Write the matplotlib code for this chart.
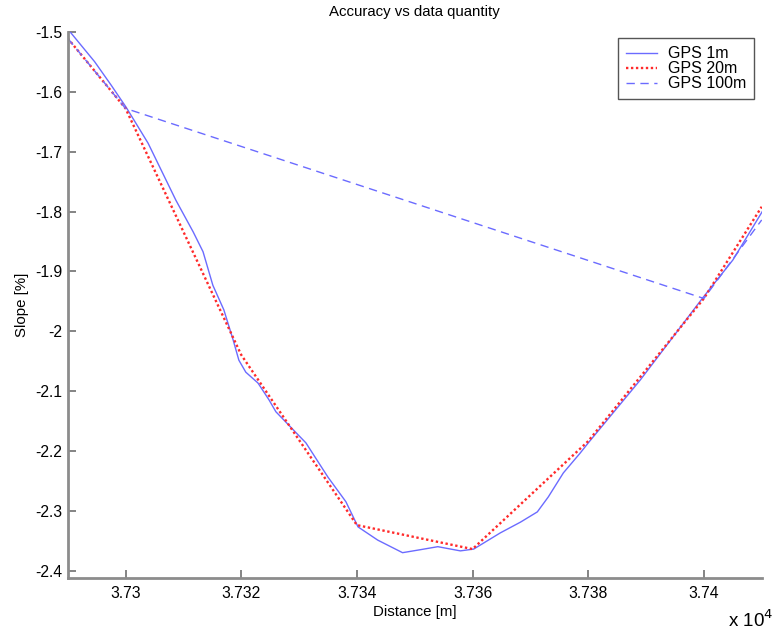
import matplotlib
matplotlib.use("Agg")
import matplotlib.pyplot as plt
from matplotlib.ticker import FuncFormatter

plt.rcParams['font.family'] = ['Liberation Sans', 'DejaVu Sans']
plt.rcParams['axes.unicode_minus'] = False

# GPS 1m (dense trace)
gps1_x = [37290.3, 37294.65, 37297.5, 37300.1, 37303.9, 37308.7, 37311.7, 37313.4,
          37315.1, 37317.0, 37318.6, 37319.6, 37320.8, 37322.9, 37324.8, 37326.0,
          37331.2, 37335.0, 37338.1, 37340.2, 37343.6, 37347.9, 37351.0, 37354.0,
          37357.9, 37360.2, 37364.8, 37368.3, 37371.2, 37373.1, 37375.7, 37378.6,
          37380.0, 37389.0, 37399.8, 37405.0, 37410.1]
gps1_y = [-1.499, -1.550, -1.589, -1.626, -1.686, -1.781, -1.834, -1.867,
          -1.923, -1.964, -2.014, -2.048, -2.068, -2.086, -2.114, -2.134,
          -2.186, -2.243, -2.284, -2.326, -2.348, -2.369, -2.364, -2.359,
          -2.366, -2.363, -2.336, -2.318, -2.301, -2.276, -2.236, -2.203,
          -2.186, -2.081, -1.944, -1.881, -1.800]

# GPS 20m
gps20_x = [37290, 37300, 37320, 37340, 37360, 37380, 37400, 37410]
gps20_y = [-1.511, -1.628, -2.039, -2.323, -2.363, -2.183, -1.945, -1.792]

# GPS 100m
gps100_x = [37290, 37300, 37400, 37410]
gps100_y = [-1.511, -1.628, -1.945, -1.814]

xticks = [37300, 37320, 37340, 37360, 37380, 37400]
yticks = [-1.5, -1.6, -1.7, -1.8, -1.9, -2.0, -2.1, -2.2, -2.3, -2.4]

fig = plt.figure(figsize=(7.79, 6.36), dpi=100)
ax = fig.add_axes([0.0869, 0.0917, 0.9778 - 0.0869, 0.9502 - 0.0917])

ax.plot(gps1_x, gps1_y, color='#6b6bff', lw=1.0, ls='-', label='GPS 1m')
ax.plot(gps20_x, gps20_y, color='#ff2a2a', lw=1.7, ls=(0, (1, 1.1)), label='GPS 20m')
ax.plot(gps100_x, gps100_y, color='#6b6bff', lw=1.0, ls=(0, (6, 4)), label='GPS 100m')

ax.set_xlim(37290, 37410)
ax.set_ylim(-2.4107, -1.5)
ax.set_xticks(xticks)
ax.set_yticks(yticks)
ax.xaxis.set_major_formatter(FuncFormatter(lambda v, p: f"{v/1e4:g}"))
ax.yaxis.set_major_formatter(FuncFormatter(lambda v, p: f"{v:g}"))

for s in ['top', 'right']:
    ax.spines[s].set_visible(False)
for s in ['left', 'bottom']:
    ax.spines[s].set_color('#8c8c8c')
    ax.spines[s].set_linewidth(2.0)
ax.tick_params(direction='in', length=6, width=1.2, color='#707070',
               labelsize=11.3, labelcolor='black')
ax.tick_params(axis='y', pad=4)
ax.tick_params(axis='x', pad=6)

ax.set_title('Accuracy vs data quantity', fontsize=10.8, pad=11)
ax.set_xlabel('Distance [m]', fontsize=10.8, labelpad=3)
ax.set_ylabel('Slope [%]', fontsize=10.8, labelpad=4)

fig.text(0.935, 0.008, r'x 10$^{4}$', fontsize=13.5, ha='left', va='bottom')

leg = ax.legend(loc='upper right', bbox_to_anchor=(0.989, 0.988), fontsize=11.5,
                frameon=True, fancybox=False, framealpha=1, edgecolor='#555555',
                handlelength=1.9, borderpad=0.5, labelspacing=0.0, handletextpad=0.7,
                borderaxespad=0)
leg.get_frame().set_linewidth(1.0)

fig.savefig('out.png', dpi=100)
